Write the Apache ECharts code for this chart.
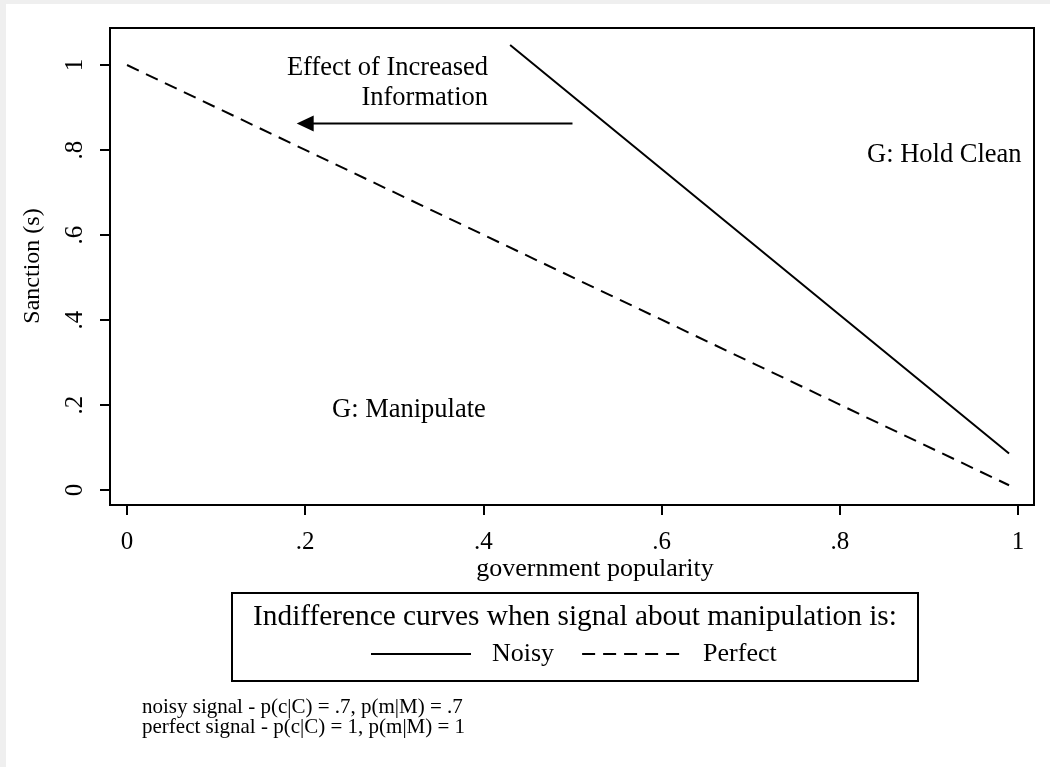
<!DOCTYPE html>
<html>
<head>
<meta charset="utf-8">
<title>Indifference curves</title>
<script src="https://cdn.jsdelivr.net/npm/echarts@6/dist/echarts.min.js"></script>
<style>
  html, body { margin: 0; padding: 0; background: #efefef; }
  #chart { width: 1050px; height: 767px; }
</style>
</head>
<body>
<div id="chart"></div>
<script>
// axis ticks
const tickValues = [0, 0.2, 0.4, 0.6, 0.8, 1];
const tickLabels = ['0', '.2', '.4', '.6', '.8', '1'];

// perfect signal indifference curve
const perfectPopularity = [0, 0.2, 0.4, 0.6, 0.8, 0.99];
const perfectSanction = [1, 0.8, 0.6, 0.4, 0.2, 0.01];

// noisy signal indifference curve
const noisyPopularity = [0.43, 0.6, 0.8, 0.99];
const noisySanction = [1.047, 0.755, 0.411, 0.085];

// arrow "effect of increased information"
const arrowPopularity = [0.5, 0.2];
const arrowSanction = [0.862, 0.862];

const FONT = 'Liberation Serif';

const zip = (xs, ys) => xs.map((x, i) => [x, ys[i]]);
const tickText = v => {
  const i = tickValues.findIndex(t => Math.abs(t - v) < 1e-6);
  return i >= 0 ? tickLabels[i] : '';
};
const tickStyle = { show: true, length: 10, lineStyle: { color: '#000', width: 2 } };

const chart = echarts.init(document.getElementById('chart'));

const option = {
  backgroundColor: '#efefef',
  animation: false,
  textStyle: { fontFamily: FONT, color: '#000' },
  grid: [
    // plot frame
    { left: 110, top: 28, width: 924, height: 477, show: true,
      borderColor: '#000', borderWidth: 2, backgroundColor: 'transparent' },
    // strip under the frame for x ticks
    { left: 127, top: 495, width: 891, height: 10 },
    // strip left of the frame for y ticks
    { left: 110, top: 65, width: 10, height: 425 }
  ],
  xAxis: [
    { gridIndex: 0, type: 'value', min: -0.0191, max: 1.018, show: false },
    { gridIndex: 1, type: 'value', min: 0, max: 1, interval: 0.2,
      axisLine: { show: false }, axisTick: tickStyle, splitLine: { show: false },
      axisLabel: { formatter: tickText, fontSize: 25, fontFamily: FONT, color: '#000', margin: 25 } },
    { gridIndex: 2, type: 'value', show: false }
  ],
  yAxis: [
    { gridIndex: 0, type: 'value', min: -0.0365, max: 1.0872, show: false },
    { gridIndex: 1, type: 'value', show: false },
    { gridIndex: 2, type: 'value', min: 0, max: 1, interval: 0.2,
      axisLine: { show: false }, axisTick: tickStyle, splitLine: { show: false },
      axisLabel: { formatter: tickText, rotate: 90, fontSize: 25, fontFamily: FONT, color: '#000', margin: 22 } }
  ],
  legend: {
    left: 370, top: 641, padding: 0, itemGap: 27,
    itemWidth: 100, itemHeight: 20,
    itemStyle: { color: 'rgba(0,0,0,0)', borderWidth: 0, opacity: 0 },
    textStyle: { fontSize: 26, fontFamily: FONT, color: '#000', padding: [0, 0, 0, 16] },
    data: ['Noisy', 'Perfect']
  },
  series: [
    { name: 'Noisy', type: 'line', xAxisIndex: 0, yAxisIndex: 0,
      data: zip(noisyPopularity, noisySanction), symbol: 'none',
      lineStyle: { color: '#000', width: 2 }, itemStyle: { color: '#000' } },
    { name: 'Perfect', type: 'line', xAxisIndex: 0, yAxisIndex: 0,
      data: zip(perfectPopularity, perfectSanction), symbol: 'none',
      lineStyle: { color: '#000', width: 2, type: [13, 8] }, itemStyle: { color: '#000' } },
    { name: 'arrow', type: 'line', xAxisIndex: 0, yAxisIndex: 0,
      data: zip(arrowPopularity, arrowSanction).map((p, i) => i === arrowPopularity.length - 1
        ? { value: p, symbol: 'path://M0,5 L10,0 L10,10 Z', symbolSize: [17, 16] }
        : { value: p, symbol: 'none' }),
      symbol: 'none',
      lineStyle: { color: '#000', width: 2 }, itemStyle: { color: '#000' } }
  ],
  graphic: [
    { type: 'rect', z: -100, shape: { x: 6, y: 4, width: 1044, height: 763 }, style: { fill: '#fff' } },
    { type: 'text', x: 33, y: 266, rotation: Math.PI / 2, style: { text: 'Sanction (s)', textAlign: 'center',
        textVerticalAlign: 'middle', font: '24px "Liberation Serif"', fill: '#000' } },
    { type: 'text', x: 488, y: 53, style: { text: 'Effect of Increased\nInformation', textAlign: 'right',
        font: '26.5px "Liberation Serif"', lineHeight: 30, fill: '#000' } },
    { type: 'text', x: 867, y: 155, style: { text: 'G: Hold Clean', textVerticalAlign: 'middle',
        font: '26.5px "Liberation Serif"', fill: '#000' } },
    { type: 'text', x: 332, y: 410, style: { text: 'G: Manipulate', textVerticalAlign: 'middle',
        font: '26.5px "Liberation Serif"', fill: '#000' } },
    { type: 'text', x: 595, y: 569, style: { text: 'government popularity', textAlign: 'center',
        textVerticalAlign: 'middle', font: '26px "Liberation Serif"', fill: '#000' } },
    // legend box and title
    { type: 'rect', shape: { x: 232, y: 593, width: 686, height: 88 },
      style: { fill: 'transparent', stroke: '#000', lineWidth: 2 } },
    { type: 'text', x: 575, y: 617, style: { text: 'Indifference curves when signal about manipulation is:',
        textAlign: 'center', textVerticalAlign: 'middle', font: '29.3px "Liberation Serif"', fill: '#000' } },
    // notes
    { type: 'text', x: 142, y: 697, style: { text: 'noisy signal - p(c|C) = .7, p(m|M) = .7\nperfect signal - p(c|C) = 1, p(m|M) = 1',
        font: '21px "Liberation Serif"', lineHeight: 20, fill: '#000' } }
  ]
};

chart.setOption(option);
</script>
</body>
</html>
